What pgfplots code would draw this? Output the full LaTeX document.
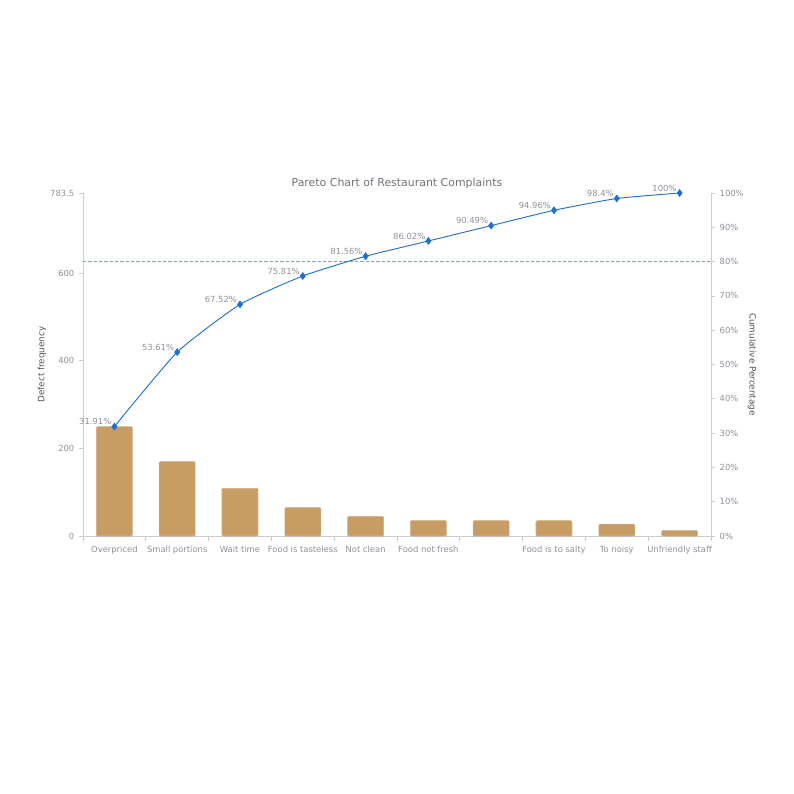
\documentclass[border=0pt]{standalone}
\usepackage{pgfplots}
\pgfplotsset{compat=1.18}
\usepackage{fontspec}
\setmainfont{DejaVu Sans}
\definecolor{barcol}{HTML}{C89C65}
\definecolor{linecol}{HTML}{1F6FD1}
\definecolor{axcol}{HTML}{CCCCCC}
\definecolor{txtcol}{HTML}{8C9198}
\definecolor{labcol}{HTML}{4E535A}
\definecolor{titcol}{HTML}{6E737A}
\definecolor{refcol}{HTML}{86A69E}
\newcommand{\chartfont}{\fontsize{6.3}{7.5}\selectfont}

% defects per complaint, and cumulative share in percent
\pgfplotstableread{
x freq cum
0 250   31.91
1 170   53.61
2 109   67.52
3 65    75.81
4 45    81.56
5 35    86.02
6 35    90.49
7 35    94.96
8 27    98.40
9 12.5  100
}\complaints

\begin{document}
\begin{tikzpicture}[x=0.75pt,y=0.75pt]
\useasboundingbox (-83,-258) rectangle (711,536);
\pgfplotsset{
  pareto/.style={
    at={(0,0)}, anchor=south west, scale only axis,
    width=471pt, height=257.25pt,
    xmin=-0.5, xmax=9.5,
    axis line style={axcol, line width=0.6pt},
    tick style={axcol, line width=0.6pt},
    tick align=outside,
    major tick length=3pt,
    ticklabel style={font=\chartfont, text=txtcol},
    label style={font=\fontsize{6.6}{8}\selectfont, text=labcol},
    /pgf/number format/assume math mode=true,
  },
}
\begin{axis}[pareto,
  ymin=0, ymax=783.5,
  axis y line*=left, axis x line*=bottom,
  xtick={0,...,9},
  xticklabels={Overpriced, Small portions, Wait time, Food is tasteless, Not clean,
    Food not fresh, {}, Food is to salty, To noisy, Unfriendly staff},
  major x tick style={draw=none},
  minor xtick={-0.5,0.5,...,9.5},
  minor tick length=4pt,
  xticklabel style={yshift=-1pt},
  ytick={0,200,400,600,783.5},
  yticklabels={0,200,400,600,783.5},
  ylabel={Defect frequency},
  ylabel style={at={(axis description cs:-0.0653,0.5)}, anchor=center, rotate=0},
  title={Pareto Chart of Restaurant Complaints},
  title style={at={(axis description cs:0.5,1)}, anchor=center, yshift=1.5pt,
    font=\fontsize{8.2}{10}\selectfont, text=titcol},
  ybar, bar width=27pt,
]
\addplot[fill=barcol, draw=barcol!80!white, line width=0.4pt, rounded corners=0.8pt]
  table[x=x, y=freq] {\complaints};
\end{axis}
\begin{axis}[pareto,
  ymin=0, ymax=100,
  axis y line*=right, axis x line=none,
  ytick={0,10,...,100},
  yticklabel={\pgfmathprintnumber{\tick}\%},
  ylabel={Cumulative Percentage},
  ylabel style={at={(axis description cs:1.0653,0.5)}, anchor=center, rotate=180},
]
\addplot[refcol, dashed, dash pattern=on 2.5pt off 1.5pt, line width=0.5pt]
  coordinates {(-0.5,80) (9.5,80)};
\addplot[linecol, line width=0.7pt, smooth, tension=0.3,
  mark=diamond*, mark size=2.4pt, mark options={fill=linecol, solid},
  nodes near coords={\pgfmathprintnumber[fixed,precision=2]{\pgfplotspointmeta}\%},
  point meta=explicit,
  every node near coord/.append style={font=\chartfont, text=txtcol, anchor=south east,
    inner sep=1pt, xshift=-1pt},
] table[x=x, y=cum, meta=cum] {\complaints};
\end{axis}
\end{tikzpicture}
\end{document}
